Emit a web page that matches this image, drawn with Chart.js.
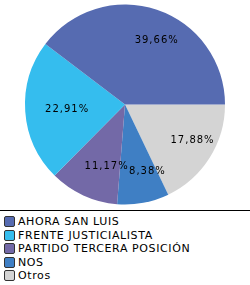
<!DOCTYPE html>
<html>
<head>
<meta charset="utf-8">
<script src="https://cdn.jsdelivr.net/npm/chart.js@4/dist/chart.umd.min.js"></script>
<style>
    body { margin: 0; background: #fff; width: 250px; height: 285px; overflow: hidden; font-family: "DejaVu Sans", Verdana, sans-serif; }
    #wrap { position: relative; width: 250px; height: 210px; }
    #legend { border-top: 1px solid #000; padding-top: 4px; width: 250px; }
    .item { display: flex; align-items: center; height: 13.5px; font-size: 11px; letter-spacing: 0.6px; color: #000; }
    .box { width: 9px; height: 9px; border: 1px solid #333; border-radius: 2px; margin: 0 3px 0 4px; box-sizing: content-box; }
</style>
</head>
<body>
<div id="wrap"><canvas id="pie" width="250" height="210"></canvas></div>
<div id="legend"></div>
<script>
// legend order (as shown below the chart)
const parties = ['AHORA SAN LUIS', 'FRENTE JUSTICIALISTA', 'PARTIDO TERCERA POSICIÓN', 'NOS', 'Otros'];
const shares = [39.66, 22.91, 11.17, 8.38, 17.88];
const colors = ['#566bb1', '#35bdee', '#7369a7', '#3f7fc4', '#d4d4d4'];

// slices go counter-clockwise from 3 o'clock, so feed them reversed to chart.js
const pieLabels = [...parties].reverse();
const pieData = [...shares].reverse();
const pieColors = [...colors].reverse();

const fmt = v => v.toFixed(2).replace('.', ',') + '%';

const sliceLabels = {
    id: 'sliceLabels',
    afterDatasetsDraw(chart) {
        const ctx = chart.ctx;
        const meta = chart.getDatasetMeta(0);
        ctx.save();
        ctx.font = '10px "DejaVu Sans", Verdana, sans-serif';
        ctx.letterSpacing = '1px';
        ctx.fillStyle = '#000';
        ctx.textAlign = 'center';
        ctx.textBaseline = 'middle';
        meta.data.forEach((arc, i) => {
            const p = arc.getProps(['x', 'y', 'startAngle', 'endAngle', 'outerRadius'], true);
            const mid = (p.startAngle + p.endAngle) / 2;
            const r = p.outerRadius * 0.68;
            ctx.fillText(fmt(pieData[i]), p.x + Math.cos(mid) * r + 10, p.y + Math.sin(mid) * r);
        });
        ctx.restore();
    }
};

new Chart(document.getElementById('pie'), {
    type: 'pie',
    data: {
        labels: pieLabels,
        datasets: [{
            data: pieData,
            backgroundColor: pieColors,
            borderWidth: 0
        }]
    },
    options: {
        responsive: false,
        animation: false,
        rotation: 90,
        layout: { padding: { left: 25, right: 25, top: 4, bottom: 5 } },
        plugins: {
            legend: { display: false },
            tooltip: { enabled: false }
        }
    },
    plugins: [sliceLabels]
});

// legend rows
const legend = document.getElementById('legend');
parties.forEach((name, i) => {
    const row = document.createElement('div');
    row.className = 'item';
    row.innerHTML = `<span class="box" style="background:${colors[i]}"></span><span>${name}</span>`;
    legend.appendChild(row);
});
</script>
</body>
</html>
